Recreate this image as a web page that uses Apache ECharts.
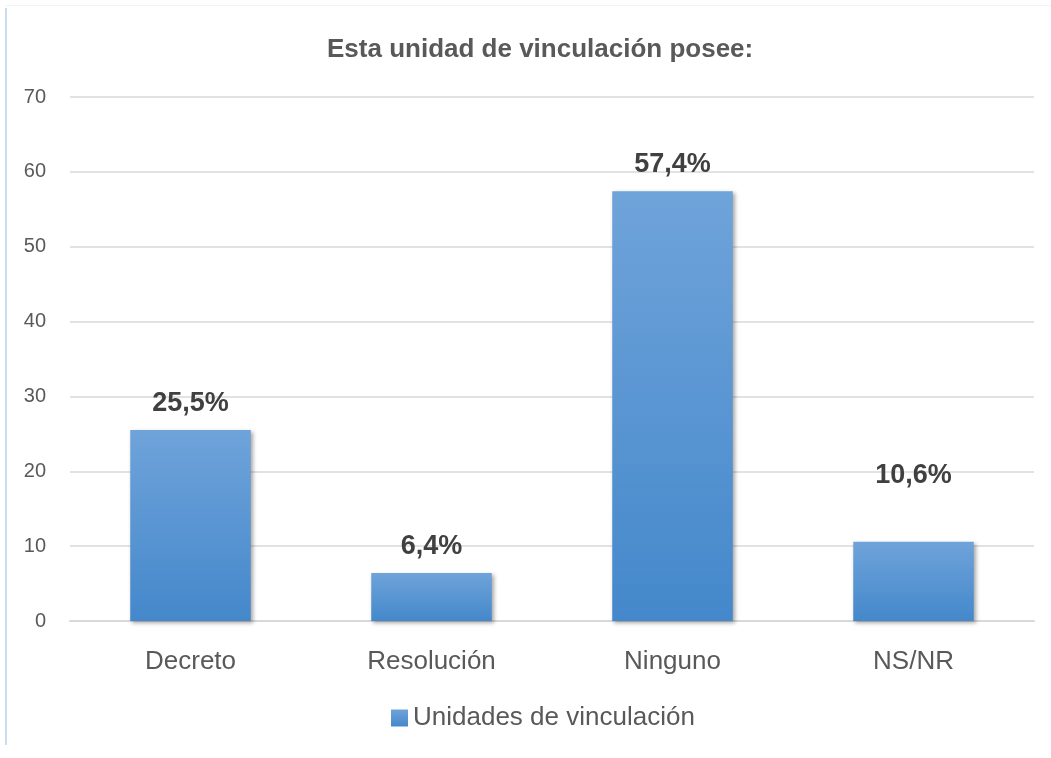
<!DOCTYPE html>
<html><head><meta charset="utf-8">
<script src="https://cdn.jsdelivr.net/npm/echarts@6/dist/echarts.min.js"></script>
<style>html,body{margin:0;padding:0;background:#fff}#c{width:1051px;height:758px;position:relative}
#lb{position:absolute;left:5px;top:8px;width:2px;height:737px;background:#c9dcf0}
#tb{position:absolute;left:5px;top:5px;width:1046px;height:1px;background:#eef4fb}</style>
</head><body>
<div id="c"></div><div id="lb"></div><div id="tb"></div>
<script>
const categories = ['Decreto','Resolución','Ninguno','NS/NR'];
const values = [25.5, 6.4, 57.4, 10.6];
const labels = ['25,5%','6,4%','57,4%','10,6%'];
const yTicks = [0,10,20,30,40,50,60,70];
const seriesName = 'Unidades de vinculación';
const FONT = 'Liberation Sans Narrow, Liberation Sans, Arial';
const chart = echarts.init(document.getElementById('c'));
const grad = new echarts.graphic.LinearGradient(0,0,0,1,[{offset:0,color:'#6fa3da'},{offset:1,color:'#4488cb'}]);
chart.setOption({
  animation:false,
  title:{text:'Esta unidad de vinculación posee:',left:322,top:32,
    textStyle:{fontFamily:FONT,fontSize:26,fontWeight:'bold',color:'#595959'}},
  grid:{left:70,right:17,top:97,bottom:137},
  legend:{bottom:22,left:386,itemWidth:17,itemHeight:17,itemGap:8,icon:'rect',
    textStyle:{fontFamily:FONT,fontSize:26,color:'#595959'},
    data:[{name:seriesName,itemStyle:{color:grad}}]},
  xAxis:{type:'category',data:categories,
    axisLine:{lineStyle:{color:'#d9d9d9',width:2}},axisTick:{show:false},
    axisLabel:{fontFamily:FONT,fontSize:26,color:'#595959',margin:28}},
  yAxis:{type:'value',min:yTicks[0],max:yTicks[yTicks.length-1],interval:10,
    axisLine:{show:false},axisTick:{show:false},
    splitLine:{lineStyle:{color:'#d9d9d9',width:1.5}},
    axisLabel:{fontFamily:FONT,fontSize:20,color:'#595959',margin:24}},
  series:[{name:seriesName,type:'bar',barWidth:'50%',
    data:values.map((v,i)=>({value:v,label:i===3?{offset:[0,-40]}:{}})),
    itemStyle:{color:grad,shadowBlur:4,shadowColor:'rgba(0,0,0,0.35)',shadowOffsetX:2,shadowOffsetY:2},
    label:{show:true,position:'top',distance:13,formatter:p=>labels[p.dataIndex],
      fontFamily:FONT,fontSize:27,fontWeight:'bold',color:'#404040'}}]
});
</script></body></html>
